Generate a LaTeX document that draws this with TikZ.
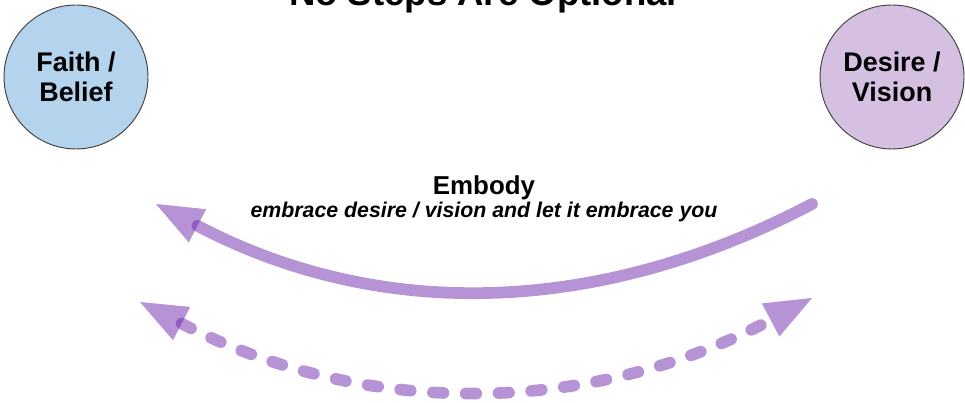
\documentclass[tikz,border=0pt]{standalone}
\usepackage{fontspec}
\setmainfont{Liberation Sans}
\usepackage{tikz}
\usepackage{xcolor}
\usetikzlibrary{arrows.meta}
\usetikzlibrary{positioning}

\definecolor{faithblue}{RGB}{180,211,236}
\definecolor{desirepurple}{RGB}{213,192,226}
\definecolor{arcpurple}{RGB}{110,40,170}

\tikzset{
  goal/.style={draw=black!75, line width=0.8pt, circle, minimum size=122.9pt, inner sep=0pt, align=center, font=\fontsize{23}{25.6}\selectfont\bfseries},
  arcline/.style={draw=arcpurple, opacity=0.5, line width=10pt, line cap=round},
  arctip/.tip={Triangle[length=40pt, width=32pt, line width=0pt, fill=arcpurple]},
  dashedarc/.style={arcline, dash pattern=on 9pt off 19pt}
}

\begin{document}
\begin{tikzpicture}[x=0.03cm, y=-0.03cm]
\clip (0,0) rectangle (965,403);

% Title (cut off at the top)
\node[anchor=base, font=\fontsize{31.2}{34}\selectfont\bfseries] (title) at (483,6) {No Steps Are Optional};

% Circles (nodes)
\node[goal, fill=faithblue] (faith) at (76,77) {Faith /\\Belief};
\node[goal, fill=desirepurple] (desire) at (892,77) {Desire /\\Vision};

% Labels
\node[anchor=base, inner sep=0pt, font=\fontsize{22.1}{25}\selectfont\bfseries] (embody) at (484,195) {Embody};
\node[anchor=base, inner sep=0pt, font=\fontsize{18.2}{21}\selectfont\bfseries\itshape] (embrace) at (484,218) {embrace desire / vision and let it embrace you};

% Arc ends
\coordinate (embodyStart) at (812,204);
\coordinate (embodyEnd) at (156,204);
\coordinate (returnLeft) at (140,302);
\coordinate (returnRight) at (812,298);

% Solid arc
\draw[arcline, -arctip] (embodyStart) .. controls (593,319) and (375,319) .. (embodyEnd);
% Dashed arc
\draw[dashedarc, arctip-arctip] (returnLeft) .. controls (364,418) and (588,417) .. (returnRight);
\end{tikzpicture}
\end{document}
